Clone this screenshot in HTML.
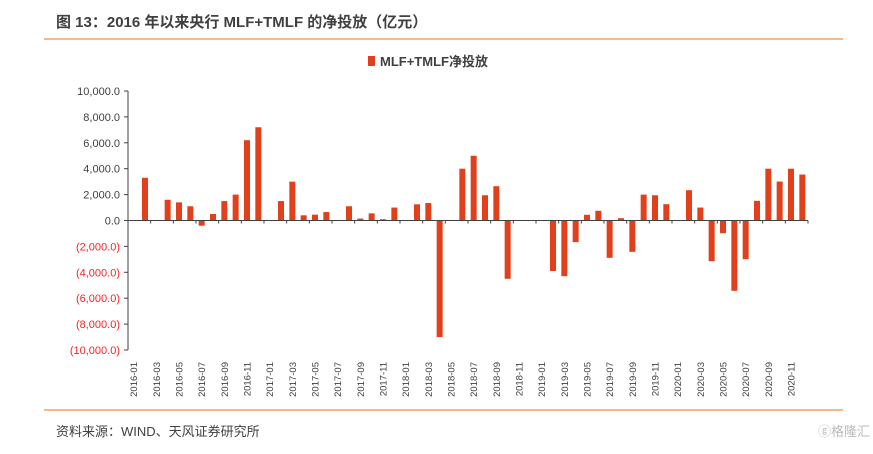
<!DOCTYPE html>
<html><head><meta charset="utf-8"><style>
body{margin:0;background:#fff;width:873px;height:449px;overflow:hidden;font-family:"Liberation Sans","Noto Sans CJK SC",sans-serif;}
</style></head><body>
<svg width="873" height="449" xmlns="http://www.w3.org/2000/svg">
<text x="56" y="27" font-size="15" font-weight="bold" fill="#404040" font-family="Liberation Sans,Noto Sans CJK SC,sans-serif">图 13：2016 年以来央行 MLF+TMLF 的净投放（亿元）</text>
<line x1="44" y1="39" x2="843" y2="39" stroke="#f4a460" stroke-width="1.5"/>
<rect x="368" y="56" width="7" height="10" fill="#e0401c"/>
<text x="380" y="66" font-size="13" font-weight="bold" fill="#404040" font-family="Liberation Sans,Noto Sans CJK SC,sans-serif">MLF+TMLF净投放</text>
<g id="plot"></g>
<line x1="44" y1="410" x2="843" y2="410" stroke="#f4a460" stroke-width="1.5"/>
<text x="56" y="436" font-size="13" fill="#404040" font-family="Liberation Sans,Noto Sans CJK SC,sans-serif">资料来源：WIND、天风证券研究所</text>
<text x="818" y="436" font-size="13" fill="#bbb" font-family="Liberation Sans,Noto Sans CJK SC,sans-serif">ⓖ格隆汇</text>
</svg>
<script>
const categories=[];for(let y=2016;y<=2020;y++)for(let m=1;m<=12;m++)categories.push(y+'-'+String(m).padStart(2,'0'));
const values=[0,3300,0,1600,1400,1100,-400,500,1500,2000,6200,7200,0,1500,3000,400,450,650,0,1100,150,550,100,1000,0,1250,1350,-9000,0,4000,5000,1950,2650,-4500,0,0,0,-3900,-4300,-1670,440,750,-2880,180,-2420,2000,1950,1260,0,2340,1000,-3140,-980,-5430,-2990,1520,4000,3010,4000,3550];
const yTicks=[10000,8000,6000,4000,2000,0,-2000,-4000,-6000,-8000,-10000];
const NS='http://www.w3.org/2000/svg';
const g=document.getElementById('plot');
const x0=128,x1=808,yTop=91,yBot=350,vmax=10000,vmin=-10000;
const bw=(x1-x0)/categories.length;
const yS=v=>yTop+(vmax-v)/(vmax-vmin)*(yBot-yTop);
const xS=i=>x0+bw*(i+0.5);
function mk(t,a){const e=document.createElementNS(NS,t);for(const k in a)e.setAttribute(k,a[k]);g.appendChild(e);return e;}
const fmt=v=>{const s=Math.abs(v).toLocaleString('en-US')+'.0';return v<0?'('+s+')':s;};
yTicks.forEach(v=>{
 const t=mk('text',{x:120,y:yS(v)+4,'text-anchor':'end','font-size':11,fill:v<0?'#ff2020':'#404040'});
 t.textContent=fmt(v);
 
 
 const l=mk('line',{x1:x0-4,x2:x0,y1:yS(v),y2:yS(v),stroke:'#404040'});
 
 
});
const ya=mk('line',{x1:x0,x2:x0,y1:yTop,y2:yBot,stroke:'#404040'});


values.forEach((v,i)=>{
 if(!v)return;
 const y=Math.min(yS(v),yS(0)),h=Math.abs(yS(v)-yS(0));
 const r=mk('rect',{x:xS(i)-3,y:y,width:6,height:h,fill:'#e0401c'});
 
 
});
const xa=mk('line',{x1:x0,x2:x1,y1:yS(0),y2:yS(0),stroke:'#404040'});


categories.forEach((c,i)=>{
 if(i%2)return;
 const tk=mk('line',{x1:x0+bw*(i+2),x2:x0+bw*(i+2),y1:yS(0),y2:yS(0)+3,stroke:'#404040'});
 
 
 const t=mk('text',{x:0,y:0,'text-anchor':'end','font-size':9.5,fill:'#404040',transform:`translate(${xS(i)+3.5},362) rotate(-90)`});
 t.textContent=c;
 
 
});
</script>
</body></html>
